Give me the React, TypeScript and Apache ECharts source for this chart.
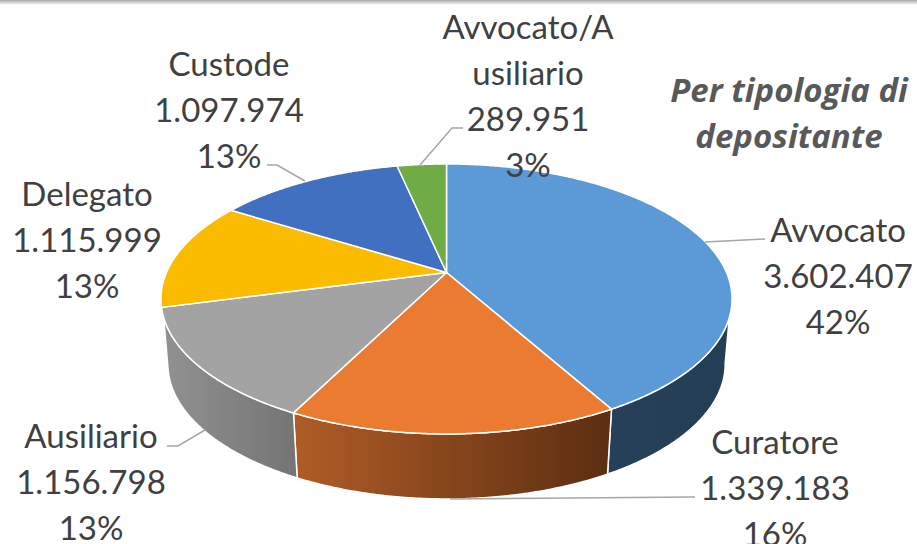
import React, { useEffect, useRef } from "react";
import * as echarts from "echarts";

// ---- data ----
const categories = ["Avvocato", "Curatore", "Ausiliario", "Delegato", "Custode", "Avvocato/A\nusiliario"];
const values = [3602407, 1339183, 1156798, 1115999, 1097974, 289951];
const titleText = "Per tipologia di\ndepositante";

// ---- styles & layout ----
const topColors = ["#5B9AD6", "#EB7B31", "#A3A3A3", "#FBBC00", "#4270C1", "#70AC46"];
const sideStops: (string[] | null)[] = [
  ["#254058", "#233e55"],
  ["#b05c26", "#5b2e11"],
  ["#919191", "#747474"],
  null,
  null,
  null,
];
const labelAt = [
  [838, 275],
  [775, 487],
  [91, 481],
  [87, 239],
  [229, 109],
  [528, 95],
];
const leaders = [
  [[705, 242], [765, 239]],
  [[450, 499], [695, 497]],
  [[205, 430], [178, 446], [167, 446]],
  null,
  [[305, 181], [277, 165], [267, 165]],
  [[420, 165], [452, 128], [463, 128]],
];
const FONT = "Lato, 'Open Sans', sans-serif";
const total = values.reduce((a, b) => a + b, 0);
const CX = 446.5, CY = 272.5, A = 280, B = 129.8, K = 0.196;
const DEPTH = 65, SHRINK = 0.976;
const FRONT = [109, 251], FRONT_BOTTOM = [101, 259];

const top = (deg: number) => {
  const r = (deg * Math.PI) / 180;
  const u = Math.sin(r), v = Math.cos(r), w = 1 + K * v;
  return [CX + (A * u) / w, CY - (B * v) / w];
};
const bottom = (deg: number) => {
  const p = top(deg);
  return [CX + (p[0] - CX) * SHRINK, p[1] + DEPTH];
};
const arc = (fn: (d: number) => number[], a: number, b: number) => {
  const pts: number[][] = [];
  const n = Math.max(2, Math.ceil(Math.abs(b - a) * 2));
  for (let i = 0; i <= n; i++) pts.push(fn(a + ((b - a) * i) / n));
  return pts;
};
const startDeg = (i: number) => (values.slice(0, i).reduce((a, b) => a + b, 0) / total) * 360;
const fmt = (v: number) => String(v).replace(/\B(?=(\d{3})+(?!\d))/g, ".");

export default function App() {
  const ref = useRef<HTMLDivElement>(null);
  useEffect(() => {
    const chart = echarts.init(ref.current!, undefined, { renderer: "svg" });
    const data = values.map((v, i) => ({ name: categories[i], value: v }));
    chart.setOption({
      animation: false,
      backgroundColor: "#fff",
      title: {
        text: titleText,
        left: 784,
        top: 61,
        textAlign: "center",
        textStyle: {
          fontFamily: "'Open Sans', Lato, sans-serif",
          fontStyle: "italic",
          fontWeight: "bold",
          fontSize: 33,
          lineHeight: 46,
          color: "#595959",
        },
      },
      graphic: [
        {
          type: "rect",
          shape: { x: 0, y: 0, width: 917, height: 5 },
          style: {
            fill: new echarts.graphic.LinearGradient(0, 0, 0, 1, [
              { offset: 0, color: "#a8a8a8" },
              { offset: 1, color: "#ffffff" },
            ]),
          },
        },
      ],
      series: [
        {
          type: "custom",
          coordinateSystem: "none",
          silent: true,
          data,
          renderItem: (p: any, api: any) => {
            const i = p.dataIndex;
            const stops = sideStops[i];
            if (!stops) return { type: "group", children: [] };
            const s = startDeg(i);
            const e = s + (api.value(0) / total) * 360;
            const pts = [
              ...arc(top, Math.max(s, FRONT[0]), Math.min(e, FRONT[1])),
              ...arc(bottom, Math.min(e, FRONT_BOTTOM[1]), Math.max(s, FRONT_BOTTOM[0])),
            ];
            return {
              type: "polygon",
              shape: { points: pts },
              style: {
                fill: new echarts.graphic.LinearGradient(0, 0, 1, 0, [
                  { offset: 0, color: stops[0] },
                  { offset: 1, color: stops[1] },
                ]),
                stroke: "#fff",
                lineWidth: 1.5,
              },
            };
          },
        },
        {
          type: "custom",
          coordinateSystem: "none",
          silent: true,
          data,
          renderItem: (p: any, api: any) => {
            const i = p.dataIndex;
            const s = startDeg(i);
            const e = s + (api.value(0) / total) * 360;
            return {
              type: "polygon",
              shape: { points: [[CX, CY], ...arc(top, s, e)] },
              style: { fill: topColors[i], stroke: "#fff", lineWidth: 1.5 },
            };
          },
        },
        {
          type: "custom",
          coordinateSystem: "none",
          silent: true,
          data,
          renderItem: (p: any, api: any) => {
            const i = p.dataIndex;
            const v = api.value(0);
            const children: any[] = [];
            const l = leaders[i];
            if (l) {
              children.push({
                type: "polyline",
                shape: { points: l },
                style: { fill: "none", stroke: "#a6a6a6", lineWidth: 1.5 },
              });
            }
            children.push({
              type: "text",
              style: {
                text: `${categories[i]}\n${fmt(v)}\n${Math.round((v / total) * 100)}%`,
                x: labelAt[i][0],
                y: labelAt[i][1],
                align: "center",
                verticalAlign: "middle",
                fill: "#404040",
                fontFamily: FONT,
                fontSize: 33,
                lineHeight: 45.7,
              },
            });
            return { type: "group", children };
          },
        },
      ],
    });
    return () => chart.dispose();
  }, []);
  return <div ref={ref} style={{ position: "absolute", left: 0, top: 0, width: 917, height: 544 }} />;
}
